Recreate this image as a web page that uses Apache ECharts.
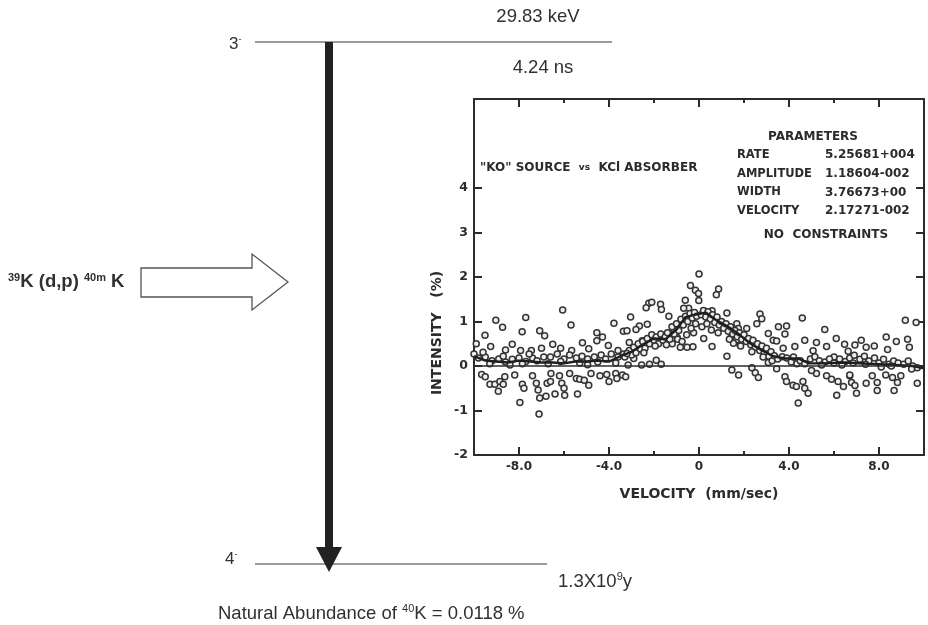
<!DOCTYPE html>
<html><head><meta charset="utf-8">
<script src="https://cdn.jsdelivr.net/npm/echarts@6/dist/echarts.min.js"></script>
<style>html,body{margin:0;padding:0;background:#fff}#c{width:928px;height:625px}</style>
</head><body><div id="c"></div>
<script>
// ---- data ----
const xTickMajor = [-8, -4, 0, 4, 8];
const xTickMinor = [-6, -2, 2, 6];
const yTickValues = [-1, 0, 1, 2, 3, 4];
const yLabelValues = [-2, -1, 0, 1, 2, 3, 4];

const paramNames = ['RATE', 'AMPLITUDE', 'WIDTH', 'VELOCITY'];
const paramValues = ['5.25681+004', '1.18604-002', '3.76673+00', '2.17271-002'];

// measured points [velocity mm/s, intensity %]
const pointsLeft = [
 [-9.03,1.03],[-8.73,0.87],[-7.70,1.09],[-7.86,0.77],[-9.51,0.69],[-7.08,0.79],[-6.86,0.68],[-8.30,0.49],[-9.26,0.44],[-7.93,0.35],[-8.6,0.36],[-7.45,0.35],[-7.0,0.4],[-9.9,0.5],
 [-9.8,0.18],[-9.5,0.2],[-9.2,0.12],[-8.9,0.16],[-8.6,0.09],[-8.3,0.15],[-8.0,0.18],[-7.7,0.1],[-7.4,0.18],[-7.2,0.12],[-6.9,0.2],[-10.0,0.27],[-9.6,0.31],[-9.3,0.05],[-8.7,0.22],[-8.4,0.02],[-7.85,0.05],[-7.55,0.27],[-6.7,0.05],
 [-9.66,-0.19],[-9.5,-0.24],[-9.29,-0.41],[-9.07,-0.41],[-8.85,-0.35],[-8.7,-0.41],[-8.92,-0.57],[-8.63,-0.24],[-8.19,-0.2],[-7.85,-0.41],[-7.78,-0.5],[-7.96,-0.82],[-7.4,-0.22],[-7.23,-0.39],[-7.15,-0.54],[-7.08,-0.72],[-6.8,-0.68],[-7.11,-1.08],[-6.75,-0.39],
 [-6.06,1.26],[-5.69,0.92],[-3.78,0.96],[-4.54,0.75],[-4.29,0.65],[-3.36,0.78],[-6.5,0.49],[-6.15,0.4],[-5.66,0.35],[-5.18,0.52],[-4.9,0.39],[-4.54,0.57],[-4.03,0.46],[-3.6,0.35],
 [-6.6,0.2],[-6.3,0.27],[-6.0,0.16],[-5.75,0.25],[-5.45,0.18],[-5.2,0.22],[-4.95,0.16],[-4.65,0.2],[-4.35,0.25],[-4.15,0.16],[-3.9,0.27],[-3.6,0.2],[-3.35,0.27],[-6.15,0.1],[-5.3,0.07],[-4.5,0.09],[-3.7,0.07],[-4.95,0.03],
 [-6.58,-0.17],[-6.2,-0.22],[-6.1,-0.39],[-6.0,-0.5],[-6.4,-0.63],[-5.97,-0.66],[-5.4,-0.63],[-5.45,-0.28],[-5.3,-0.3],[-5.1,-0.32],[-4.9,-0.43],[-4.8,-0.17],[-4.4,-0.22],[-4.1,-0.19],[-4.0,-0.35],[-3.7,-0.17],[-3.65,-0.28],[-3.4,-0.2],[-5.75,-0.17],[-6.6,-0.35]
];
const pointsCentre = [
 [0.0,2.07],[-0.38,1.81],[-0.16,1.70],[-0.02,1.63],[-2.23,1.41],[-2.1,1.43],[-1.71,1.39],[-1.67,1.27],[-2.35,1.31],[-3.04,1.1],[-1.34,1.12],[-0.61,1.48],[-0.46,1.3],[-0.68,1.3],[-0.01,1.47],
 [-2.3,0.94],[-2.65,0.9],[-2.8,0.82],[-3.2,0.79],[-2.52,0.57],[-3.1,0.53],[-1.81,0.6],[-1.12,0.82],[-0.97,0.64],[-0.24,0.75],[-0.53,0.42],[-0.83,0.42],[-1.19,0.5],[-0.27,0.43],
 [-2.9,0.17],[-2.55,0.02],[-2.2,0.04],[-1.9,0.13],[-1.68,0.04],[-3.15,0.02],[-3.26,-0.24],
 [-3.1,0.35],[-3.0,0.25],[-2.9,0.42],[-2.8,0.3],[-2.7,0.5],[-2.6,0.38],[-2.5,0.55],[-2.4,0.4],[-2.3,0.62],[-2.2,0.5],[-2.1,0.7],[-2.0,0.58],[-1.9,0.65],[-1.8,0.5],[-1.7,0.72],[-1.6,0.58],[-1.5,0.66],[-1.4,0.75],[-1.3,0.6],[-1.2,0.88],[-1.1,0.72],[-1.0,0.95],[-0.9,0.8],[-0.8,1.05],[-0.7,0.92],[-0.6,1.12],[-0.5,1.0],[-0.4,1.18],[-0.3,1.08],[-0.2,1.2],[-0.1,1.12],[-3.3,0.2],[-3.2,0.28],[-2.45,0.3],[-1.95,0.45],[-1.45,0.48],[-0.95,0.6],[-0.75,0.55],[-0.55,0.7],[-0.35,0.85],[-0.15,0.95],
 [0.87,1.73],[0.77,1.6],[0.21,1.24],[0.58,1.24],[1.24,1.19],[0.13,0.88],[0.55,0.81],[0.21,0.62],[0.58,0.44],[2.71,1.17],[2.79,1.06],[2.57,0.95],[1.68,0.95],[1.75,0.84],[2.12,0.84],[3.08,0.73],[3.3,0.58],[1.39,0.62],[1.53,0.51],[1.82,0.48],[1.24,0.22],[1.46,-0.09],[1.76,-0.2],[2.5,-0.15],[2.64,-0.26],[2.35,-0.04],[3.08,0.08],
 [0.1,1.15],[0.2,1.25],[0.3,1.1],[0.4,1.22],[0.5,1.05],[0.6,1.15],[0.7,0.98],[0.8,1.1],[0.9,0.92],[1.0,1.0],[1.1,0.85],[1.2,0.95],[1.3,0.78],[1.4,0.88],[1.5,0.72],[1.6,0.8],[1.7,0.66],[1.8,0.75],[1.9,0.6],[2.0,0.7],[2.1,0.55],[2.2,0.62],[2.3,0.48],[2.4,0.58],[2.5,0.42],[2.6,0.5],[2.7,0.35],[2.8,0.45],[2.9,0.3],[3.0,0.4],[3.1,0.22],[3.2,0.32],[0.35,0.95],[0.85,0.75],[1.35,0.6],[1.85,0.45],[2.35,0.32],[2.85,0.2],[3.25,0.12]
];
const pointsRight = [
 [4.59,1.08],[3.89,0.9],[3.82,0.72],[3.53,0.88],[3.45,0.56],[3.74,0.4],[4.7,0.58],[4.26,0.44],[5.59,0.82],[5.22,0.53],[5.07,0.34],[5.67,0.44],[6.1,0.62],[6.47,0.49],[6.0,0.2],
 [3.35,0.23],[3.5,0.16],[3.7,0.21],[3.9,0.18],[4.1,0.09],[4.35,0.05],[4.5,0.12],[4.7,0.05],[4.95,0.16],[5.15,0.21],[5.35,0.12],[5.6,0.09],[5.8,0.16],[6.0,0.07],[6.25,0.16],[6.5,0.1],[4.2,0.2],[5.45,0.02],[6.35,0.02],
 [3.82,-0.24],[3.89,-0.35],[4.18,-0.43],[4.33,-0.46],[4.62,-0.35],[4.7,-0.5],[4.85,-0.61],[4.41,-0.83],[5.22,-0.17],[5.67,-0.22],[5.89,-0.3],[6.18,-0.35],[6.42,-0.46],[6.7,-0.22],[6.12,-0.66],[5.0,-0.1],[3.45,-0.06],
 [9.17,1.03],[9.65,0.98],[8.32,0.65],[8.77,0.55],[9.27,0.6],[9.35,0.42],[7.21,0.58],[6.93,0.47],[7.43,0.42],[7.79,0.45],[8.38,0.37],[6.63,0.33],
 [6.7,0.18],[6.9,0.24],[7.15,0.15],[7.35,0.22],[7.55,0.11],[7.8,0.18],[8.0,0.07],[8.2,0.15],[8.45,0.04],[8.65,0.11],[8.85,0.07],[9.1,0.04],[9.3,0.11],[9.5,0.0],[9.7,-0.04],[6.85,0.07],[7.4,0.04],[8.1,-0.02],[8.55,0.0],[9.45,-0.07],
 [6.7,-0.2],[6.78,-0.37],[6.93,-0.44],[7.0,-0.61],[7.43,-0.39],[7.7,-0.22],[7.92,-0.37],[7.92,-0.55],[8.3,-0.2],[8.6,-0.26],[8.67,-0.55],[8.82,-0.37],[8.97,-0.22],[9.7,-0.39]
];
// smoothed / fitted curve through the data
const fitCurve = [
 [-10,0.22],[-9.5,0.12],[-9,0.1],[-8.5,0.08],[-8,0.12],[-7.5,0.1],[-7,0.08],[-6.5,0.08],[-6,0.06],[-5.5,0.1],[-5,0.1],[-4.5,0.12],[-4,0.1],[-3.5,0.22],[-3,0.32],[-2.5,0.48],[-2,0.62],[-1.5,0.6],[-1,0.82],[-0.6,1.1],[-0.2,1.15],[0.3,1.2],[0.8,1.02],[1.3,0.88],[1.8,0.7],[2.3,0.5],[2.8,0.35],[3.3,0.22],[3.8,0.17],[4.4,0.17],[4.9,0.06],[5.5,0.06],[6.5,0.08],[7.5,0.05],[8.5,0.03],[9.5,0.0],[10,-0.05]
];

// ---- styling ----
const ink = '#2b2b2b';
const txt = '#303030';
const plotFont = 'DejaVu Sans';
const diagFont = 'Liberation Sans';
const G = {left: 474, top: 99, width: 450, height: 356};

function xAxisDef(pos, ticks, len, labels) {
  return {
    type: 'value', min: -10, max: 10, position: pos,
    axisLine: {show: labels !== null || len > 5, onZero: false, lineStyle: {color: ink, width: 2}},
    axisTick: {show: true, inside: true, length: len, customValues: ticks, lineStyle: {color: ink, width: 2}},
    axisLabel: labels ? {show: true, customValues: xTickMajor, margin: 6,
      formatter: v => (v === 0 ? '0' : v.toFixed(1)), color: ink, fontFamily: plotFont, fontWeight: 'bold', fontSize: 12} : {show: false},
    splitLine: {show: false}
  };
}

const chart = echarts.init(document.getElementById('c'), null, {renderer: 'canvas'});
const plain = (fs) => ({fontSize: fs, fontFamily: diagFont, fill: txt});
const supS = (fs, pad) => ({fontSize: fs, fontFamily: diagFont, fill: txt, padding: [0, 0, pad, 0]});
const pt = (s, extra) => Object.assign({text: s, fontSize: 11.5, fontWeight: 'bold', fontFamily: plotFont, fill: ink, verticalAlign: 'middle'}, extra || {});

chart.setOption({
  animation: false,
  backgroundColor: '#fff',
  grid: {left: G.left, top: G.top, width: G.width, height: G.height, containLabel: false, outerBoundsMode: 'none'},
  xAxis: [
    Object.assign(xAxisDef('bottom', xTickMajor, 8, true), {
      name: 'VELOCITY  (mm/sec)', nameLocation: 'middle', nameGap: 32,
      nameTextStyle: {color: ink, fontFamily: plotFont, fontWeight: 'bold', fontSize: 14}
    }),
    xAxisDef('top', xTickMajor, 8, false),
    xAxisDef('bottom', xTickMinor, 4, null),
    xAxisDef('top', xTickMinor, 4, null)
  ],
  yAxis: [
    {type: 'value', min: -2, max: 6, position: 'left',
     axisLine: {show: true, onZero: false, lineStyle: {color: ink, width: 2}},
     axisTick: {show: true, inside: true, length: 8, customValues: yTickValues, lineStyle: {color: ink, width: 2}},
     axisLabel: {show: true, customValues: yLabelValues, margin: 6, color: ink, fontFamily: plotFont, fontWeight: 'bold', fontSize: 12.5},
     splitLine: {show: false}},
    {type: 'value', min: -2, max: 6, position: 'right',
     axisLine: {show: true, onZero: false, lineStyle: {color: ink, width: 2}},
     axisTick: {show: true, inside: true, length: 8, customValues: yTickValues, lineStyle: {color: ink, width: 2}},
     axisLabel: {show: false}, splitLine: {show: false}}
  ],
  series: [
    {type: 'scatter', name: 'data', xAxisIndex: 0, yAxisIndex: 0,
     data: pointsLeft.concat(pointsCentre, pointsRight),
     symbol: 'circle', symbolSize: 6,
     itemStyle: {color: '#eeeeee', borderColor: '#333', borderWidth: 1.5, opacity: 1},
     markLine: {silent: true, symbol: 'none', label: {show: false},
       lineStyle: {color: ink, width: 1.6, type: 'solid'}, data: [{yAxis: 0}]}
    },
    {type: 'line', name: 'fit', xAxisIndex: 0, yAxisIndex: 0, data: fitCurve,
     showSymbol: false, smooth: false, lineStyle: {color: '#1e1e1e', width: 2.4}, z: 3}
  ],
  graphic: [
    // energy level lines
    {type: 'line', shape: {x1: 255, y1: 42, x2: 612, y2: 42}, style: {stroke: '#7a7a7a', lineWidth: 1.5}},
    {type: 'line', shape: {x1: 255, y1: 564, x2: 547, y2: 564}, style: {stroke: '#7a7a7a', lineWidth: 1.5}},
    // transition arrow
    {type: 'line', shape: {x1: 329, y1: 42, x2: 329, y2: 552}, style: {stroke: '#222', lineWidth: 8}},
    {type: 'polygon', shape: {points: [[316, 547], [342, 547], [329, 572]]}, style: {fill: '#222'}},
    // reaction arrow
    {type: 'polygon', shape: {points: [[141, 268], [252, 268], [252, 254], [288, 282], [252, 310], [252, 297], [141, 297]]},
     style: {fill: '#fff', stroke: '#555', lineWidth: 1.3}},
    // level labels
    {type: 'text', x: 229, y: 44, style: {text: '{a|3}{s|-}', rich: {a: plain(17), s: supS(9, 9)}, verticalAlign: 'middle'}},
    {type: 'text', x: 225, y: 559, style: {text: '{a|4}{s|-}', rich: {a: plain(17), s: supS(9, 9)}, verticalAlign: 'middle'}},
    {type: 'text', x: 538, y: 17, style: {text: '29.83 keV', fontSize: 18.5, fontFamily: diagFont, fill: txt, align: 'center', verticalAlign: 'middle'}},
    {type: 'text', x: 543, y: 68, style: {text: '4.24 ns', fontSize: 18.5, fontFamily: diagFont, fill: txt, align: 'center', verticalAlign: 'middle'}},
    {type: 'text', x: 558, y: 582, style: {text: '{a|1.3X10}{s|9}{a|y}', rich: {a: plain(18.5), s: supS(11, 10)}, verticalAlign: 'middle'}},
    {type: 'text', x: 218, y: 614, style: {text: '{a|Natural Abundance of }{s|40}{a|K = 0.0118 %}', rich: {a: plain(18.5), s: supS(11, 10)}, verticalAlign: 'middle'}},
    {type: 'text', x: 8, y: 282, style: {text: '{s|39}{a|K (d,p) }{s|40m}{a| K}',
      rich: {a: Object.assign(plain(18.5), {fontWeight: 'bold'}), s: Object.assign(supS(11, 9), {fontWeight: 'bold'})}, verticalAlign: 'middle'}},
    // plot annotations
    {type: 'text', x: 437, y: 333, rotation: Math.PI / 2, style: pt('INTENSITY   (%)', {fontSize: 14, align: 'center'})},
    {type: 'text', x: 480, y: 168, style: pt('"KO" SOURCE  {v|vs}  KCl ABSORBER', {fontSize: 12, rich: {v: {fontSize: 9, fontWeight: 'bold', fontFamily: plotFont, fill: ink}}})},
    {type: 'text', x: 813, y: 137, style: pt('PARAMETERS', {fontSize: 12, align: 'center'})},
    ...paramNames.map((n, i) => ({type: 'text', x: 737, y: 155 + i * 18.7, style: pt(n)})),
    ...paramValues.map((v, i) => ({type: 'text', x: 825, y: 155 + i * 18.7, style: pt(v, {fontSize: 12})})),
    {type: 'text', x: 826, y: 235, style: pt('NO  CONSTRAINTS', {fontSize: 12, align: 'center'})}
  ]
});
</script>
</body></html>
